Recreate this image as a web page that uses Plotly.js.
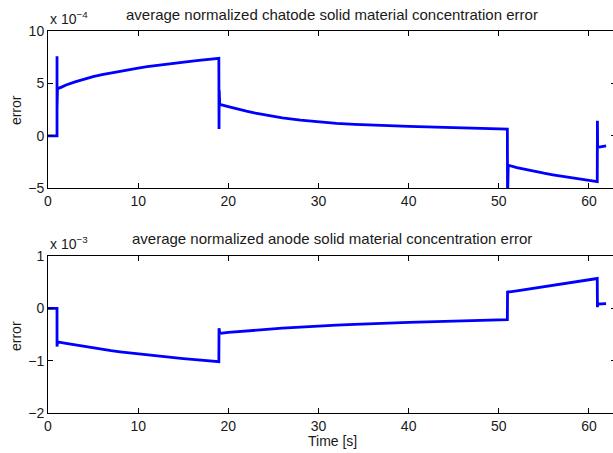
<!DOCTYPE html>
<html>
<head>
<meta charset="utf-8">
<script src="https://cdn.plot.ly/plotly-3.0.1.min.js"></script>
<style>
html, body { margin: 0; padding: 0; width: 613px; height: 453px; overflow: hidden; background: #fff; }
#chart { width: 640px; height: 453px; }
</style>
</head>
<body>
<div id="chart"></div>
<script>
// ---- Data ----
// Cathode error, values in units of 1e-4
const cathodeTime = [0, 1.0, 1.0, 1.0, 1.0, 1.05, 1.5, 2, 3, 4, 5, 6, 7, 8, 9, 10, 11, 12, 13, 14, 15, 16, 17, 18, 18.95,
  18.97, 18.99, 19.05, 20, 21, 22, 23, 24, 26, 28, 30, 32, 34, 36, 38, 40, 42, 44, 46, 48, 50, 50.95,
  50.97, 51.05, 52, 53, 54, 55, 56, 57, 58, 59, 60, 60.92,
  60.94, 60.96, 61.9];
const cathodeErr = [0, 0, 7.6, 2.5, 4.5, 4.5, 4.65, 4.85, 5.15, 5.42, 5.65, 5.85, 6.02, 6.18, 6.33, 6.47, 6.6, 6.72, 6.83, 6.94, 7.04, 7.13, 7.22, 7.31, 7.4,
  0.65, 4.4, 3.0, 2.78, 2.55, 2.35, 2.17, 2.0, 1.72, 1.5, 1.33, 1.2, 1.1, 1.02, 0.96, 0.91, 0.86, 0.81, 0.77, 0.72, 0.68, 0.65,
  -6.0, -2.8, -3.02, -3.22, -3.4, -3.56, -3.71, -3.85, -3.98, -4.1, -4.22, -4.36,
  1.45, -1.1, -0.95];

// Anode error, values in units of 1e-3
const anodeTime = [0, 1.0, 1.0, 1.05, 2, 3, 4, 5, 6, 7, 8, 9, 10, 11, 12, 13, 14, 15, 16, 17, 18, 18.95,
  18.97, 19.05, 20, 21, 22, 23, 24, 26, 28, 30, 32, 34, 36, 38, 40, 42, 44, 46, 48, 50, 50.95,
  50.97, 51.05, 52, 53, 54, 55, 56, 57, 58, 59, 60, 60.92,
  60.94, 60.96, 61.9];
const anodeErr = [0, 0, -0.73, -0.64, -0.67, -0.7, -0.73, -0.76, -0.785, -0.81, -0.83, -0.85, -0.87, -0.89, -0.91, -0.93, -0.945, -0.96, -0.975, -0.99, -1.005, -1.02,
  -0.38, -0.48, -0.46, -0.445, -0.43, -0.415, -0.4, -0.38, -0.36, -0.335, -0.32, -0.305, -0.29, -0.28, -0.27, -0.26, -0.25, -0.24, -0.23, -0.22, -0.215,
  0.33, 0.31, 0.335, 0.36, 0.385, 0.41, 0.435, 0.46, 0.485, 0.51, 0.54, 0.57,
  0.02, 0.08, 0.09];

const xTicks = [0, 10, 20, 30, 40, 50, 60];
const cathodeTicks = [-5, 0, 5, 10];
const anodeTicks = [-2, -1, 0, 1];
const titles = ['average normalized chatode solid material concentration error',
                'average normalized anode solid material concentration error'];

const FONT = 'Liberation Sans, Arial, Helvetica, sans-serif';
const lineStyle = {color: '#0000ff', width: 2.8};

const traces = [
  {x: cathodeTime, y: cathodeErr, type: 'scatter', mode: 'lines', line: lineStyle, xaxis: 'x', yaxis: 'y', hoverinfo: 'skip'},
  {x: anodeTime, y: anodeErr, type: 'scatter', mode: 'lines', line: lineStyle, xaxis: 'x2', yaxis: 'y2', hoverinfo: 'skip'}
];

function xAxis(anchor) {
  return {
    anchor: anchor, domain: [0, 1], range: [0, 63], tickvals: xTicks,
    ticks: 'inside', ticklen: 5, tickcolor: '#000', tickwidth: 1,
    showline: true, linecolor: '#000', linewidth: 1, mirror: 'ticks',
    showgrid: false, zeroline: false,
    tickfont: {family: FONT, size: 14, color: '#1a1a1a'}
  };
}
function yAxis(anchor, domain, range, ticks) {
  return {
    anchor: anchor, domain: domain, range: range, tickvals: ticks,
    ticks: 'inside', ticklen: 5, tickcolor: '#000', tickwidth: 1,
    showline: true, linecolor: '#000', linewidth: 1, mirror: 'ticks',
    showgrid: false, zeroline: false,
    tickfont: {family: FONT, size: 14, color: '#1a1a1a'}
  };
}

const annFont = {family: FONT, size: 14, color: '#1a1a1a'};
const titleFont = {family: FONT, size: 15, color: '#1a1a1a'};
const layout = {
  width: 640, height: 453,
  margin: {l: 48, r: 24, t: 31, b: 40},
  paper_bgcolor: '#fff', plot_bgcolor: '#fff',
  showlegend: false,
  xaxis: xAxis('y'),
  yaxis: yAxis('x', [0.5882, 1], [-5, 10], cathodeTicks),
  xaxis2: xAxis('y2'),
  yaxis2: yAxis('x2', [0, 0.411], [-2, 1], anodeTicks),
  annotations: [
    {text: titles[0], xref: 'paper', yref: 'paper', x: 0.5, y: 1.0445, xanchor: 'center', yanchor: 'middle', showarrow: false, font: titleFont},
    {text: titles[1], xref: 'paper', yref: 'paper', x: 0.5, y: 0.4555, xanchor: 'center', yanchor: 'middle', showarrow: false, font: titleFont},
    {text: 'x 10<sup>\u22124</sup>', xref: 'paper', yref: 'paper', x: 0, y: 1.035, xanchor: 'left', yanchor: 'middle', showarrow: false, font: annFont},
    {text: 'x 10<sup>\u22123</sup>', xref: 'paper', yref: 'paper', x: 0, y: 0.446, xanchor: 'left', yanchor: 'middle', showarrow: false, font: annFont},
    {text: 'error', xref: 'paper', yref: 'paper', x: -0.0563, y: 0.793, xanchor: 'center', yanchor: 'middle', textangle: -90, showarrow: false, font: annFont},
    {text: 'error', xref: 'paper', yref: 'paper', x: -0.0563, y: 0.2016, xanchor: 'center', yanchor: 'middle', textangle: -90, showarrow: false, font: annFont},
    {text: 'Time [s]', xref: 'paper', yref: 'paper', x: 0.5, y: -0.0733, xanchor: 'center', yanchor: 'middle', showarrow: false, font: annFont}
  ]
};

Plotly.newPlot('chart', traces, layout, {staticPlot: true, displayModeBar: false});
</script>
</body>
</html>
